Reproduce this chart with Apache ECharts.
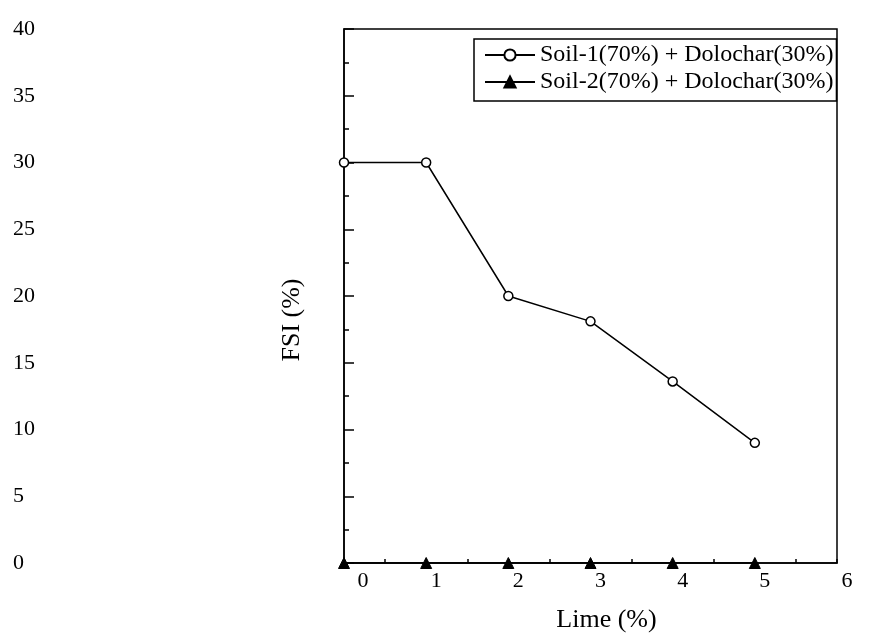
<!DOCTYPE html>
<html>
<head>
<meta charset="utf-8">
<script src="https://cdn.jsdelivr.net/npm/echarts@6/dist/echarts.min.js"></script>
<style>
html,body{margin:0;padding:0;background:#fff;}
#chart{width:869px;height:637px;}
</style>
</head>
<body>
<div id="chart"></div>
<script>
const limeValues = [0, 1, 2, 3, 4, 5];
const soil1FSI = [30, 30, 20, 18.1, 13.6, 9];
const soil2FSI = [0, 0, 0, 0, 0, 0];
const seriesNames = ['Soil-1(70%) + Dolochar(30%)', 'Soil-2(70%) + Dolochar(30%)'];
const xTitle = 'Lime (%)';
const yTitle = 'FSI (%)';

const FONT = 'Liberation Serif';
const chart = echarts.init(document.getElementById('chart'));
chart.setOption({
  animation: false,
  backgroundColor: '#fff',
  grid: {left: 344, top: 29, right: 32, bottom: 74, show: true, borderColor: '#000', borderWidth: 1.5, backgroundColor: 'transparent', outerBoundsMode: 'none', containLabel: false},
  legend: {
    left: 474, top: 39, orient: 'vertical',
    padding: [4, 3, 7, 10],
    itemWidth: 50, itemHeight: 14, itemGap: 3,
    borderColor: '#000', borderWidth: 1.5,
    textStyle: {fontFamily: FONT, fontSize: 24, color: '#000'},
    data: seriesNames
  },
  xAxis: {
    type: 'value', min: 0, max: 6, interval: 1,
    name: xTitle, nameLocation: 'middle', nameGap: 44, nameMoveOverlap: false,
    nameTextStyle: {fontFamily: FONT, fontSize: 26, color: '#000', padding: [0, 0, 0, 32]},
    axisLine: {lineStyle: {color: '#000', width: 1.5}},
    axisTick: {inside: true, length: 4, lineStyle: {color: '#000', width: 1.5}},
    minorTick: {show: true, splitNumber: 2, length: 4, lineStyle: {color: '#000', width: 1.5}},
    splitLine: {show: false},
    axisLabel: {
      margin: 7, fontFamily: FONT, fontSize: 22, color: '#000',
      formatter: v => v === 0 ? '{z|0}' : '{n|' + v + '}',
      rich: {
        z: {fontFamily: FONT, fontSize: 22, color: '#000', padding: [0, 0, 0, 38]},
        n: {fontFamily: FONT, fontSize: 22, color: '#000', padding: [0, 0, 0, 20]}
      }
    }
  },
  yAxis: {
    type: 'value', min: 0, max: 40, interval: 5,
    name: yTitle, nameLocation: 'middle', nameGap: 39, nameMoveOverlap: false,
    nameTextStyle: {fontFamily: FONT, fontSize: 26, color: '#000', padding: [0, 48, 0, 0]},
    axisLine: {show: true, lineStyle: {color: '#000', width: 1.5}},
    axisTick: {show: true, inside: true, length: 10, lineStyle: {color: '#000', width: 1.5}},
    minorTick: {show: true, splitNumber: 2, length: 5, lineStyle: {color: '#000', width: 1.5}},
    splitLine: {show: false},
    axisLabel: {margin: 331, align: 'left', fontFamily: FONT, fontSize: 22, color: '#000'}
  },
  series: [
    {
      name: seriesNames[0], type: 'line',
      data: limeValues.map((x, i) => [x, soil1FSI[i]]),
      symbol: 'circle', symbolSize: 9,
      lineStyle: {color: '#000', width: 1.5},
      itemStyle: {color: '#fff', borderColor: '#000', borderWidth: 1.5},
      z: 3
    },
    {
      name: seriesNames[1], type: 'line',
      data: limeValues.map((x, i) => [x, soil2FSI[i]]),
      symbol: 'triangle', symbolSize: 11,
      lineStyle: {color: '#000', width: 1.5},
      itemStyle: {color: '#000', borderColor: '#000', borderWidth: 1},
      z: 4
    }
  ]
});
</script>
</body>
</html>
